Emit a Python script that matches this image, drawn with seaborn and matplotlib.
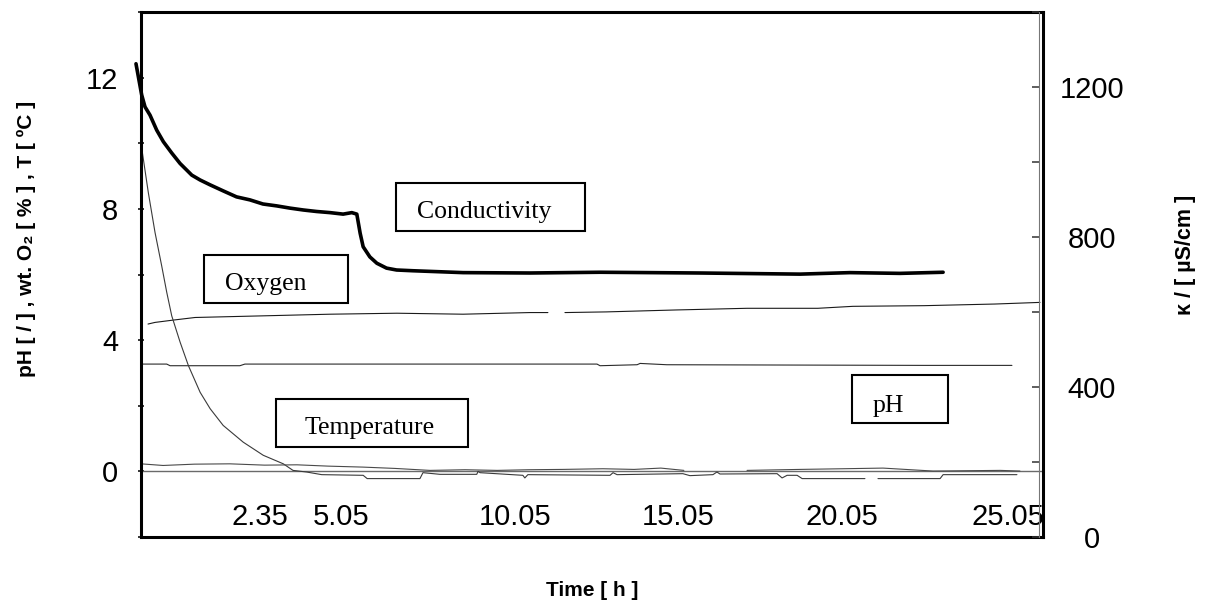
import numpy as np
import pandas as pd
import matplotlib
matplotlib.use("Agg")
import matplotlib.pyplot as plt
import seaborn as sns
from matplotlib.patches import Rectangle

# ---------------- data ----------------
# time in hours
cond_t = [-0.15, 0.02, 0.12, 0.27, 0.47, 0.67, 0.92, 1.17, 1.52, 1.77, 2.07, 2.46,
          2.86, 3.26, 3.65, 4.06, 4.46, 4.86, 5.26, 5.66, 6.05, 6.31, 6.46, 6.56,
          6.65, 6.85, 7.06, 7.35, 7.65, 8.14, 9.64, 11.64, 13.74, 16.73, 19.73,
          21.22, 22.72, 24.01]
cond_v = [1262, 1179, 1147, 1125, 1085, 1054, 1024, 996, 965, 952, 939, 923,
          907, 899, 888, 883, 877, 872, 868, 865, 861, 865, 861, 810,
          774, 747, 730, 717, 712, 710, 705, 704, 706, 704, 701,
          705, 703, 706]

oxy_t = [0.21, 0.42, 0.96, 1.62, 3.65, 5.66, 7.66, 9.64, 11.64, 12.18, 12.40,
         12.69, 13.92, 16.04, 18.14, 20.26, 21.31, 23.44, 25.56, 26.91]
oxy_v = [4.49, 4.54, 4.61, 4.69, 4.74, 4.79, 4.82, 4.79, 4.84, 4.84, np.nan,
         4.84, 4.86, 4.92, 4.97, 4.97, 5.03, 5.05, 5.10, 5.15]

ph_t = [0.0, 0.77, 0.87, 2.96, 3.11, 13.65, 13.74, 14.85, 14.94, 15.74, 23.47, 26.07]
ph_v = [3.27, 3.27, 3.22, 3.22, 3.27, 3.27, 3.22, 3.25, 3.29, 3.25, 3.23, 3.23]

temp_t = [0.0, 0.22, 0.42, 0.62, 0.77, 0.92, 1.17, 1.42, 1.77, 2.07, 2.46, 3.06,
          3.66, 4.26, 4.55, 4.96, 5.41, 6.65, 6.77, 8.35, 8.44, 8.95, 10.05,
          10.09, 10.15, 11.43, 11.49, 11.58, 14.04, 14.13, 14.25, 16.22, 16.43,
          17.12, 17.24, 17.33, 19.04, 19.19, 19.34, 19.64, 19.79, 21.67, 21.85,
          22.06, 23.92, 24.01, 26.22]
temp_v = [10.0, 8.49, 7.28, 6.26, 5.46, 4.74, 3.94, 3.22, 2.41, 1.91, 1.40, 0.89,
          0.49, 0.23, 0.03, -0.02, -0.10, -0.12, -0.22, -0.22, -0.04, -0.09, -0.09,
          0.0, -0.04, -0.12, -0.20, -0.10, -0.12, -0.04, -0.10, -0.07, -0.13,
          -0.10, -0.02, -0.08, -0.07, -0.20, -0.12, -0.12, -0.22, -0.22, np.nan,
          -0.22, -0.22, -0.10, -0.10]

trace_t = [0.0, 0.66, 1.6, 2.66, 3.7, 4.67, 5.6, 6.65, 7.6, 8.65, 9.7, 10.66, 11.6,
           12.63, 13.83, 14.76, 15.56, 16.25, 17.2, 18.14, 19.73, 21.0, 22.21,
           23.71, 25.72, 26.31]
trace_v = [0.23, 0.18, 0.22, 0.23, 0.19, 0.20, 0.16, 0.13, 0.09, 0.03, 0.05, 0.03,
           0.05, 0.06, 0.08, 0.06, 0.10, 0.03, np.nan, 0.03, 0.06, 0.08, 0.10,
           0.01, 0.03, 0.01]

xtick_pos = [3.55, 5.99, 11.19, 16.07, 20.98, 25.95]
xtick_labels = ["2.35", "5.05", "10.05", "15.05", "20.05", "25.05"]

left_ticks = [-2, 0, 2, 4, 6, 8, 10, 12, 14]
left_labels = ["", "0", "", "4", "", "8", "", "12", ""]
right_ticks = [0, 200, 400, 600, 800, 1000, 1200, 1400]
right_labels = ["0", "", "400", "", "800", "", "1200", ""]

box_labels = ["Conductivity", "Oxygen", "Temperature", "pH"]

# ---------------- style ----------------
sns.set_theme(style="white")
plt.rcParams["font.family"] = ["Liberation Sans", "DejaVu Sans"]
plt.rcParams["text.color"] = "black"
plt.rcParams["axes.labelcolor"] = "black"
plt.rcParams["xtick.color"] = "black"
plt.rcParams["ytick.color"] = "black"

W, H = 1207, 612
fig = plt.figure(figsize=(W / 100, H / 100), dpi=100)
L, R, T, B = 141, 1043, 12, 537
ax = fig.add_axes([L / W, 1 - B / H, (R - L) / W, (B - T) / H])
ax2 = ax.twinx()


def seg_df(t, v):
    v = np.asarray(v, dtype=float)
    seg = np.cumsum(np.isnan(v))
    return pd.DataFrame({"t": t, "v": v, "seg": seg}).dropna()


def draw(axis, t, v, color, lw, clip=True):
    n0 = len(axis.lines)
    sns.lineplot(data=seg_df(t, v), x="t", y="v", units="seg", estimator=None,
                 sort=False, color=color, linewidth=lw, ax=axis, legend=False)
    for ln in axis.lines[n0:]:
        ln.set_clip_on(clip)
        ln.set_solid_joinstyle("round")


ax.axhline(0, color="#6a6a6a", lw=1.0, zorder=1)
draw(ax, oxy_t, oxy_v, "#1a1a1a", 0.8)
draw(ax, ph_t, ph_v, "#2a2a2a", 0.8)
draw(ax, temp_t, temp_v, "#3a3a3a", 0.8)
draw(ax, trace_t, trace_v, "#4a4a4a", 0.8)
draw(ax2, cond_t, cond_v, "black", 2.6, clip=False)

ax.set_xlim(0, 27)
ax.set_ylim(-2, 14)
ax2.set_ylim(0, 1400)

# frame
for s in ax.spines.values():
    s.set_visible(True)
    s.set_color("black")
    s.set_linewidth(2.2)
for name, s in ax2.spines.items():
    s.set_visible(name == "right")
ax2.spines["right"].set_color("#777777")
ax2.spines["right"].set_linewidth(0.8)
ax2.spines["right"].set_position(("outward", -3))

# x ticks (labels inside the frame, below the y=0 axis line)
ax.set_xticks(xtick_pos)
ax.set_xticklabels(xtick_labels)
ax.tick_params(axis="x", bottom=True, length=0, pad=-24.5, labelsize=21,
               labelcolor="black")

ax.set_yticks(left_ticks)
ax.set_yticklabels(left_labels)
ax.tick_params(axis="y", left=True, direction="inout", length=5, width=1.1,
               pad=14, labelsize=21, color="black", labelcolor="black")

ax2.set_yticks(right_ticks)
ax2.set_yticklabels(right_labels)
ax2.tick_params(axis="y", right=True, direction="in", length=5, width=1.1,
                pad=38, labelsize=21, color="#333333", labelcolor="black")

# axis titles
ax.set_xlabel("Time [ h ]", fontsize=15, fontweight="bold", color="black")
ax.xaxis.set_label_coords(0.5, (B - 590) / (B - T))
ax.xaxis.label.set_va("center")
ax.set_ylabel("pH [ / ] , wt. O\u2082 [ % ] , T [ \u00baC ]", fontsize=15,
              fontweight="bold", color="black")
ax.yaxis.set_label_coords((26 - L) / (R - L), (B - 238.6) / (B - T))
ax.yaxis.label.set_va("center")
ax2.set_ylabel("\u03ba / [ \u00b5S/cm ]", fontsize=15.5, fontweight="bold",
               rotation=90, color="black")
ax2.yaxis.set_label_coords((1186 - L) / (R - L), (B - 255) / (B - T))
ax2.yaxis.label.set_va("center")

# label boxes (pixel positions -> axes fraction)
boxes = [  # x0, x1, y0, y1 (pixels), text x, baseline y
    (396, 585, 183, 231, 417, 218),
    (204, 348, 255, 303, 225, 290),
    (276, 468, 399, 447, 305, 434),
    (852, 948, 375, 423, 873, 412),
]
fx = lambda px: (px - L) / (R - L)
fy = lambda py: (B - py) / (B - T)
for (x0, x1, y0, y1, tx, ty), lab in zip(boxes, box_labels):
    ax2.add_patch(Rectangle((fx(x0), fy(y1)), fx(x1) - fx(x0), fy(y0) - fy(y1),
                            transform=ax2.transAxes, fill=True, facecolor="white",
                            edgecolor="black", linewidth=1.5, zorder=5))
    ax2.text(fx(tx), fy(ty), lab, transform=ax2.transAxes, fontsize=18.5,
             family=["Liberation Serif", "DejaVu Serif"], ha="left",
             va="baseline", zorder=6, color="black")

# centre the right-hand tick labels (done last: spine moves reset ticks)
for tk in ax2.yaxis.get_major_ticks():
    tk.label2.set_horizontalalignment("center")

fig.savefig("out.png", dpi=100, facecolor="white")
